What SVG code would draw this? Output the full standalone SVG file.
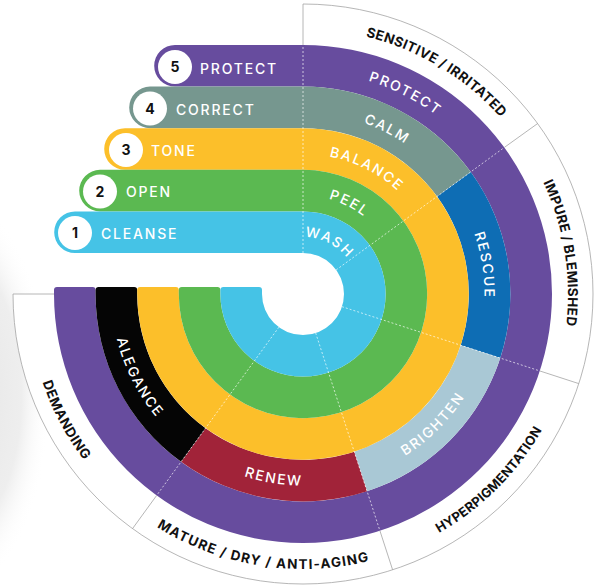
<svg xmlns="http://www.w3.org/2000/svg" xmlns:xlink="http://www.w3.org/1999/xlink" width="603" height="585" viewBox="0 0 603 585">
  <defs>
    <radialGradient id="shade" cx="0.5" cy="0.5" r="0.5">
      <stop offset="0" stop-color="#e4e4e4"/>
      <stop offset="0.7" stop-color="#eeeeee"/>
      <stop offset="1" stop-color="#ffffff" stop-opacity="0"/>
    </radialGradient>
    <!-- clockwise arcs centred on the top (tops of letters outward) -->
    <path id="t57" d="M 246.866 284.102 A 57 57 0 0 1 359.134 284.102"/>
    <path id="t98" d="M 205.996 276.896 A 98.5 98.5 0 0 1 400.004 276.896"/>
    <path id="t140" d="M 165.127 269.689 A 140 140 0 0 1 440.873 269.689"/>
    <path id="t181" d="M 124.257 262.483 A 181.5 181.5 0 0 1 481.743 262.483"/>
    <path id="t223" d="M 83.388 255.276 A 223 223 0 0 1 522.612 255.276"/>
    <path id="t265" d="M 42.026 247.983 A 265 265 0 0 1 563.974 247.983"/>
    <!-- counter-clockwise arcs centred on the bottom (tops of letters inward) -->
    <path id="b191" d="M 114.409 327.254 A 191.5 191.5 0 0 0 491.591 327.254"/>
    <path id="b275" d="M 32.177 341.753 A 275 275 0 0 0 573.823 341.753"/>
  </defs>
  <style>
    .lbl { font-family: Inter, "Liberation Sans", sans-serif; font-weight: 500; font-size: 14px; fill: #ffffff; letter-spacing: 1.8px; }
    .cat { font-family: Inter, "Liberation Sans", sans-serif; font-weight: 700; font-size: 13.5px; fill: #111111; letter-spacing: 0.8px; }
    .num { font-family: Inter, "Liberation Sans", sans-serif; font-weight: 700; font-size: 14px; fill: #111111; text-anchor: middle; }
    .dash { stroke: #ffffff; stroke-width: 0.9; stroke-dasharray: 2 2; stroke-opacity: 0.75; fill: none; }
    .div { stroke: #a3a3a3; stroke-width: 0.8; fill: none; }
    .dot { fill: #ffffff; }
  </style>

  <ellipse id="shade-bg" cx="-45" cy="395" rx="95" ry="200" fill="url(#shade)"/>

  <g id="label-ring">
    <path d="M 13 294 A 290 290 0 1 0 303 4 L 303 45 A 249 249 0 1 1 54 294 Z" fill="#ffffff"/>
    <path class="div" d="M 54 294 L 13 294 A 290 290 0 1 0 303 4 L 303 45"/>
    <line class="div" x1="504.445" y1="147.358" x2="537.615" y2="123.542"/>
    <line class="div" x1="539.813" y1="370.945" x2="578.807" y2="383.615"/>
    <line class="div" x1="379.945" y1="530.813" x2="392.615" y2="569.807"/>
    <line class="div" x1="156.642" y1="495.445" x2="132.542" y2="528.615"/>
  </g>

  <g id="step5-protect">
    <path fill="#674c9e" d="M 175 45 A 20.8 20.8 0 0 0 175 86.6 L 303 86.6 A 207.4 207.4 0 1 1 95.6 294 L 95.6 290 Q 95.6 287 92.6 287 L 57 287 Q 54 287 54 290 L 54 294 A 249 249 0 1 0 303 45 Z"/>
  </g>
  <g id="step4-correct">
    <path fill="#76978f" d="M 150 86.6 A 20.8 20.8 0 0 0 150 128.2 L 303 128.2 A 165.8 165.8 0 0 1 437.135 196.545 L 470.790 172.093 A 207.4 207.4 0 0 0 303 86.6 Z"/>
    <path id="rescue" fill="#0e6db4" d="M 470.790 172.093 A 207.4 207.4 0 0 1 500.249 358.090 L 460.685 345.235 A 165.8 165.8 0 0 0 437.135 196.545 Z"/>
    <path id="brighten" fill="#a9c8d5" d="M 500.249 358.090 A 207.4 207.4 0 0 1 367.090 491.249 L 354.235 451.685 A 165.8 165.8 0 0 0 460.685 345.235 Z"/>
    <path id="renew" fill="#a12339" d="M 367.090 491.249 A 207.4 207.4 0 0 1 181.093 461.790 L 205.545 428.135 A 165.8 165.8 0 0 0 354.235 451.685 Z"/>
    <path id="alegance" fill="#050505" d="M 181.093 461.790 A 207.4 207.4 0 0 1 95.6 294 L 95.6 290 Q 95.6 287 98.6 287 L 134.2 287 Q 137.2 287 137.2 290 L 137.2 294 A 165.8 165.8 0 0 0 205.545 428.135 Z"/>
  </g>
  <g id="step3-tone">
    <path fill="#fcbf2a" d="M 125 128.2 A 20.8 20.8 0 0 0 125 169.8 L 303 169.8 A 124.2 124.2 0 1 1 178.8 294 L 178.8 290 Q 178.8 287 175.8 287 L 140.2 287 Q 137.2 287 137.2 290 L 137.2 294 A 165.8 165.8 0 1 0 303 128.2 Z"/>
  </g>
  <g id="step2-open">
    <path fill="#5bb951" d="M 100 169.8 A 20.8 20.8 0 0 0 100 211.4 L 303 211.4 A 82.6 82.6 0 1 1 220.4 294 L 220.4 290 Q 220.4 287 217.4 287 L 181.8 287 Q 178.8 287 178.8 290 L 178.8 294 A 124.2 124.2 0 1 0 303 169.8 Z"/>
  </g>
  <g id="step1-cleanse">
    <path fill="#45c3e6" d="M 75 211.4 A 20.8 20.8 0 0 0 75 253 L 303 253 A 41 41 0 1 1 262 294 L 262 290 Q 262 287 259 287 L 223.4 287 Q 220.4 287 220.4 290 L 220.4 294 A 82.6 82.6 0 1 0 303 211.4 Z"/>
  </g>

  <g id="connectors">
    <line class="dash" x1="303" y1="253" x2="303" y2="45"/>
    <line class="dash" x1="336.17" y1="269.90" x2="504.445" y2="147.358"/>
    <line class="dash" x1="341.99" y1="306.67" x2="539.813" y2="370.945"/>
    <line class="dash" x1="315.67" y1="332.99" x2="379.945" y2="530.813"/>
    <line class="dash" x1="278.90" y1="327.17" x2="156.642" y2="495.445"/>
  </g>

  <g id="step-badges">
    <circle class="dot" cx="175" cy="67" r="17"/>
    <text class="num" x="175" y="72">5</text>
    <text class="lbl" x="200" y="73.5">PROTECT</text>
    <circle class="dot" cx="150" cy="108.5" r="17"/>
    <text class="num" x="150" y="113.5">4</text>
    <text class="lbl" x="176" y="114.5">CORRECT</text>
    <circle class="dot" cx="126" cy="150" r="17"/>
    <text class="num" x="126" y="155">3</text>
    <text class="lbl" x="151" y="156">TONE</text>
    <circle class="dot" cx="100" cy="191.5" r="17"/>
    <text class="num" x="100" y="196.5">2</text>
    <text class="lbl" x="126" y="197">OPEN</text>
    <circle class="dot" cx="75" cy="233" r="17"/>
    <text class="num" x="75" y="238">1</text>
    <text class="lbl" x="101" y="238.5">CLEANSE</text>
  </g>

  <g id="ring-labels">
    <text class="lbl" transform="rotate(27 303 294)"><textPath xlink:href="#t57" href="#t57" startOffset="50%" text-anchor="middle">WASH</textPath></text>
    <text class="lbl" transform="rotate(27 303 294)"><textPath xlink:href="#t98" href="#t98" startOffset="50%" text-anchor="middle">PEEL</textPath></text>
    <text class="lbl" transform="rotate(27 303 294)"><textPath xlink:href="#t140" href="#t140" startOffset="50%" text-anchor="middle">BALANCE</textPath></text>
    <text class="lbl" transform="rotate(27 303 294)"><textPath xlink:href="#t181" href="#t181" startOffset="50%" text-anchor="middle">CALM</textPath></text>
    <text class="lbl" transform="rotate(27 303 294)"><textPath xlink:href="#t223" href="#t223" startOffset="50%" text-anchor="middle">PROTECT</textPath></text>
    <text class="lbl" transform="rotate(81 303 294)"><textPath xlink:href="#t181" href="#t181" startOffset="50%" text-anchor="middle">RESCUE</textPath></text>
    <text class="lbl" transform="rotate(-45 303 294)"><textPath xlink:href="#b191" href="#b191" startOffset="50%" text-anchor="middle">BRIGHTEN</textPath></text>
    <text class="lbl" transform="rotate(9 303 294)"><textPath xlink:href="#b191" href="#b191" startOffset="50%" text-anchor="middle">RENEW</textPath></text>
    <text class="lbl" transform="rotate(63 303 294)"><textPath xlink:href="#b191" href="#b191" startOffset="50%" text-anchor="middle">ALEGANCE</textPath></text>
  </g>

  <g id="skin-types">
    <text class="cat" style="letter-spacing:0.4px" transform="rotate(31 303 294)"><textPath xlink:href="#t265" href="#t265" startOffset="50%" text-anchor="middle">SENSITIVE / IRRITATED</textPath></text>
    <text class="cat" style="letter-spacing:0.3px" transform="rotate(81 303 294)"><textPath xlink:href="#t265" href="#t265" startOffset="50%" text-anchor="middle">IMPURE / BLEMISHED</textPath></text>
    <text class="cat" style="letter-spacing:0.2px;font-size:13px" transform="rotate(-45 303 294)"><textPath xlink:href="#b275" href="#b275" startOffset="50%" text-anchor="middle">HYPERPIGMENTATION</textPath></text>
    <text class="cat" style="letter-spacing:1.2px" transform="rotate(9 303 294)"><textPath xlink:href="#b275" href="#b275" startOffset="50%" text-anchor="middle">MATURE / DRY / ANTI-AGING</textPath></text>
    <text class="cat" style="letter-spacing:0.5px" transform="rotate(62 303 294)"><textPath xlink:href="#b275" href="#b275" startOffset="50%" text-anchor="middle">DEMANDING</textPath></text>
  </g>
</svg>
